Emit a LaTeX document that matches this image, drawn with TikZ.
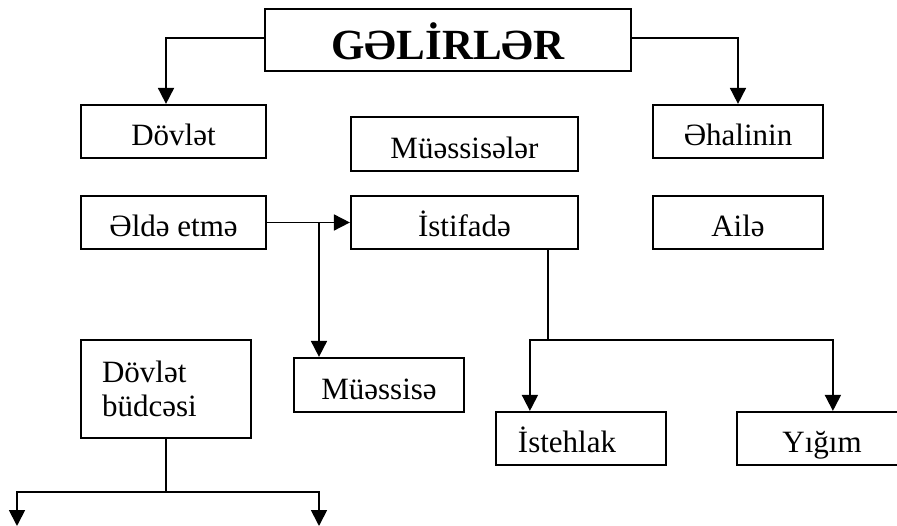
\documentclass[tikz,border=0pt]{standalone}
\usepackage{fontspec}
\setmainfont{Liberation Serif}
\usetikzlibrary{arrows.meta,calc}
\begin{document}
\begin{tikzpicture}[x=1pt,y=-1pt,
  box/.style={draw,line width=2.2pt,inner sep=0pt,font=\fontsize{31}{34}\selectfont,text height=35pt,text depth=6pt},
  conn/.style={line width=1.8pt},
  arr/.style={conn,-{Triangle[length=16pt,width=16pt]}}]
\useasboundingbox (0,0) rectangle (897,526);
\node[box,minimum width=366pt,minimum height=62pt,font=\fontsize{43}{46}\selectfont\bfseries,text height=46pt,text depth=6pt] (title) at (448,40) {GƏLİRLƏR};
\node[box,minimum width=185pt,minimum height=53pt] (dovlet) at (173.5,131.5) {Dövlət};
\node[box,minimum width=227pt,minimum height=54pt] (muess) at (464.5,144) {Müəssisələr};
\node[box,minimum width=170pt,minimum height=53pt] (ehali) at (738,131.5) {Əhalinin};
\node[box,minimum width=185pt,minimum height=53pt] (elde) at (173.5,222.5) {Əldə etmə};
\node[box,minimum width=227pt,minimum height=53pt] (istif) at (464.5,222.5) {İstifadə};
\node[box,minimum width=170pt,minimum height=53pt] (aile) at (738,222.5) {Ailə};
\node[box,minimum width=170pt,minimum height=54pt] (muessise) at (379,385) {Müəssisə};
\node[box,minimum width=170pt,minimum height=53pt] (istehlak) at (581,438.5) {İstehlak\hspace*{28pt}};
\node[box,minimum width=170pt,minimum height=53pt] (yigim) at (822,438.5) {Yığım};
\node[box,minimum width=170pt,minimum height=98pt,align=left,text width=128pt,inner xsep=21pt,text height=,text depth=] (budce) at (166,389) {Dövlət\\büdcəsi};
% connectors
\draw[arr] ($(title.west)+(0,-2)$) -| ($(dovlet.north west)!0.46!(dovlet.north east)$);
\draw[arr] ($(title.east)+(0,-2)$) -| (ehali.north);
\draw[arr] (elde.east) -- (istif.west);
\coordinate (br) at (319,222.5);
\draw[arr] (br) -- (br |- muessise.north);
\coordinate (j1) at (548,340);
\draw[conn] (j1 |- istif.south) -- (j1);
\draw[arr] (j1) -| ($(istehlak.north west)+(35,0)$);
\draw[arr] (j1) -| ($(yigim.north west)+(97,0)$);
\coordinate (j2) at (166,492);
\coordinate (l1) at (17,526);
\coordinate (r1) at (319,526);
\draw[conn] (budce.south) -- (j2);
\draw[arr] (j2) -| (l1);
\draw[arr] (j2) -| (r1);
\end{tikzpicture}
\end{document}
